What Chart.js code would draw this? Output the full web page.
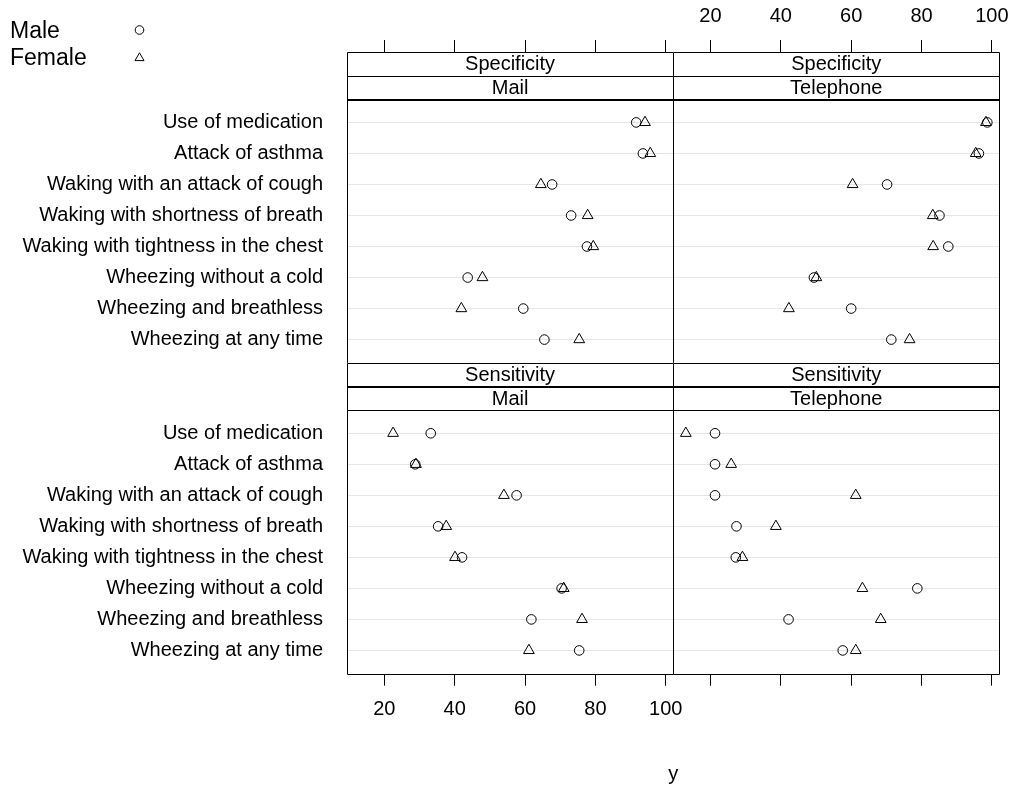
<!DOCTYPE html>
<html><head><meta charset="utf-8">
<script src="https://cdn.jsdelivr.net/npm/chart.js@4/dist/chart.umd.min.js"></script>
<style>html,body{margin:0;padding:0;background:#fff;} canvas{display:block;}</style>
</head><body>
<canvas id="c" width="1016" height="791"></canvas>
<script>
const categories = ["Use of medication","Attack of asthma","Waking with an attack of cough","Waking with shortness of breath","Waking with tightness in the chest","Wheezing without a cold","Wheezing and breathless","Wheezing at any time"];
const xTicks = [20, 40, 60, 80, 100];
const outerStrips = ["Specificity", "Sensitivity"];
const innerStrips = ["Mail", "Telephone"];
const seriesNames = ["Male", "Female"];
const axisTitle = "y";

const specMailMale   = [91.6, 93.5, 67.7, 73.1, 77.6, 43.7, 59.5, 65.5];
const specMailFemale = [94.1, 95.6, 64.5, 77.8, 79.4, 47.9, 41.9, 75.4];
const specTelMale    = [98.7, 96.3, 70.2, 85.1, 87.6, 49.4, 60.0, 71.4];
const specTelFemale  = [98.3, 95.4, 60.4, 83.2, 83.3, 50.1, 42.3, 76.6];
const sensMailMale   = [33.2, 28.8, 57.6, 35.3, 42.1, 70.4, 61.8, 75.4];
const sensMailFemale = [22.5, 29.0, 54.0, 37.6, 40.1, 71.0, 76.2, 61.1];
const sensTelMale    = [21.3, 21.3, 21.3, 27.4, 27.2, 78.8, 42.2, 57.6];
const sensTelFemale  = [13.0, 25.9, 61.3, 38.6, 29.1, 63.2, 68.4, 61.3];

const FONT = "'Liberation Sans', Arial, Helvetica, sans-serif";
Chart.defaults.font.family = FONT;
Chart.defaults.color = '#000';

const X_MIN = 9.4, X_MAX = 102.1;
const Y_MIN = -1.27, Y_MAX = 8.75;
const styles = ['circle', 'triangle'];
const radii = {circle: 4.8, triangle: 6.2};

function ds(vals, s, xId, yId) {
  const style = styles[s];
  return {
    label: seriesNames[s],
    data: vals.map((v, i) => ({x: v, y: i + 1})),
    xAxisID: xId, yAxisID: yId,
    pointStyle: style, pointRadius: radii[style], pointHoverRadius: radii[style],
    pointBorderColor: '#000', pointBackgroundColor: 'rgba(0,0,0,0)',
    borderColor: '#000', backgroundColor: 'rgba(0,0,0,0)',
    pointBorderWidth: 1, showLine: false
  };
}

const datasets = [
  ds(specMailMale, 0, 'xL', 'yT'), ds(specMailFemale, 1, 'xL', 'yT'),
  ds(specTelMale, 0, 'xR', 'yT'),  ds(specTelFemale, 1, 'xR', 'yT'),
  ds(sensMailMale, 0, 'xL', 'yB'), ds(sensMailFemale, 1, 'xL', 'yB'),
  ds(sensTelMale, 0, 'xR', 'yB'),  ds(sensTelFemale, 1, 'xR', 'yB')
];

function yAxis() {
  return {
    type: 'linear', position: 'left', stack: 'rows', stackWeight: 1,
    reverse: true, min: Y_MIN, max: Y_MAX,
    afterBuildTicks: a => { a.ticks = categories.map((c, i) => ({value: i + 1})); },
    afterFit: s => { s.width = 347; s.paddingTop = 0; s.paddingBottom = 0; },
    ticks: { callback: v => categories[v - 1], font: {size: 20}, color: '#000', padding: 24, autoSkip: false },
    grid: { color: '#e6e6e6', drawTicks: false, lineWidth: 1 },
    border: { display: false }
  };
}
function xAxis(pos, stack, showLabels, h) {
  return {
    type: 'linear', position: pos, stack: stack, stackWeight: 1,
    min: X_MIN, max: X_MAX,
    afterBuildTicks: a => { a.ticks = xTicks.map(v => ({value: v})); },
    afterFit: s => { s.height = h; s.paddingLeft = 0; s.paddingRight = 0; },
    ticks: { display: showLabels, font: {size: 20}, color: '#000', padding: 12, autoSkip: false, maxRotation: 0 },
    grid: { drawOnChartArea: false, drawTicks: true, tickLength: 12, color: '#000', lineWidth: 1 },
    border: { display: false }
  };
}

const framePlugin = {
  id: 'frame',
  afterDraw(chart) {
    const ctx = chart.ctx;
    const yT = chart.scales.yT, yB = chart.scales.yB;
    const xL = chart.scales.xL, xR = chart.scales.xR;
    const cols = [xL, xR];
    const rows = [yT, yB];
    const al = v => Math.round(v) + 0.5;
    ctx.save();
    ctx.strokeStyle = '#000';
    ctx.lineWidth = 1;
    rows.forEach((ys, r) => {
      const top = ys.top;
      const dataTop = ys.getPixelForValue(0.25);
      const stripH = (dataTop - top) / 2;
      cols.forEach((xs, c) => {
        const l = xs.left, rr = xs.right;
        ctx.fillStyle = '#fff';
        ctx.fillRect(l, top, rr - l, dataTop - top);
        ctx.beginPath();
        ctx.rect(al(l), al(top), Math.round(rr - l), Math.round(stripH));
        ctx.rect(al(l), al(top + stripH), Math.round(rr - l), Math.round(dataTop - top - stripH));
        ctx.stroke();
        ctx.fillStyle = '#000';
        ctx.font = '20px ' + FONT;
        ctx.textAlign = 'center';
        ctx.textBaseline = 'middle';
        ctx.fillText(outerStrips[r], (l + rr) / 2, top + stripH / 2 + 1);
        ctx.fillText(innerStrips[c], (l + rr) / 2, top + stripH * 1.5 + 1);
        ctx.beginPath();
        ctx.rect(al(l), al(dataTop), Math.round(rr - l), Math.round(ys.bottom - dataTop));
        ctx.stroke();
      });
    });
    const ca = chart.chartArea;
    ctx.fillStyle = '#000';
    ctx.font = '20px ' + FONT;
    ctx.textAlign = 'center';
    ctx.textBaseline = 'middle';
    ctx.fillText(axisTitle, (ca.left + ca.right) / 2, 774);
    ctx.font = '23px ' + FONT;
    ctx.textAlign = 'left';
    ctx.textBaseline = 'alphabetic';
    const legY = [30, 57];
    seriesNames.forEach((n, i) => {
      ctx.fillStyle = '#000';
      ctx.fillText(n, 10, legY[i] + 8);
      ctx.fillStyle = 'rgba(0,0,0,0)';
      ctx.strokeStyle = '#000';
      ctx.lineWidth = 1;
      Chart.helpers.drawPoint(ctx, {pointStyle: styles[i], radius: i === 0 ? 4.3 : 5.2, borderWidth: 1, rotation: 0}, 139.5, legY[i] + (i === 1 ? 1 : 0));
    });
    ctx.restore();
  }
};

new Chart(document.getElementById('c'), {
  type: 'scatter',
  data: { datasets },
  options: {
    responsive: false, animation: false, devicePixelRatio: 1,
    layout: { padding: { left: 0, right: 16.7, top: 0, bottom: 57.3 } },
    plugins: { legend: { display: false }, tooltip: { enabled: false } },
    scales: {
      yB: yAxis(),
      yT: yAxis(),
      xL: xAxis('bottom', 'xb', true, 60),
      xR: xAxis('bottom', 'xb', false, 60),
      xRt: xAxis('top', 'xt', true, 52),
      xLt: xAxis('top', 'xt', false, 52)
    }
  },
  plugins: [framePlugin]
});
</script>
</body></html>
